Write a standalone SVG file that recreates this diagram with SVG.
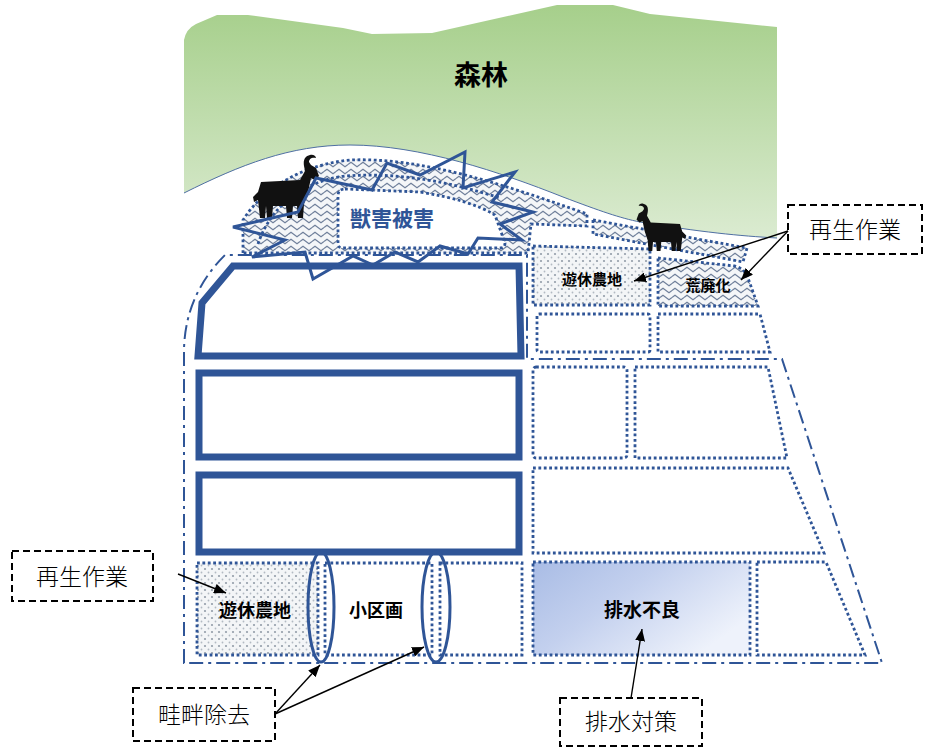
<svg xmlns="http://www.w3.org/2000/svg" xmlns:xlink="http://www.w3.org/1999/xlink" width="926" height="747" viewBox="0 0 926 747">
  <style>
    .dot { fill: none; stroke: #2f5597; stroke-width: 2.8; stroke-dasharray: 2.8 2.6; }
    .dashdot { fill: none; stroke: #2f5597; stroke-width: 2; stroke-dasharray: 14 5 3 5; }
    .thick { fill: #ffffff; stroke: #2f5597; stroke-width: 7; stroke-linejoin: miter; }
    .ring { fill: none; stroke: #2f5597; stroke-width: 3; }
    .burst { fill: none; stroke: #2f5597; stroke-width: 3; stroke-linejoin: miter; }
    .box { fill: #ffffff; stroke: #000000; stroke-width: 2; stroke-dasharray: 7 4; }
    .lbl { font-family: "Noto Sans CJK JP", "Noto Sans CJK SC", sans-serif; font-weight: 700; fill: #000000; text-anchor: middle; }
    .note { font-family: "Noto Sans CJK JP", "Noto Sans CJK SC", sans-serif; font-weight: 300; font-size: 23px; fill: #000000; text-anchor: middle; }
    .arrow { fill: none; stroke: #000000; stroke-width: 1.4; marker-end: url(#head); }
  </style>
  <defs>
    <linearGradient id="forestFill" x1="0" y1="0" x2="0" y2="1">
      <stop offset="0" stop-color="#a6cf8b"/>
      <stop offset="1" stop-color="#dbebd1"/>
    </linearGradient>
    <linearGradient id="wetFill" x1="0" y1="0" x2="1" y2="0.6">
      <stop offset="0" stop-color="#a9bce5"/>
      <stop offset="0.45" stop-color="#c3d0ee"/>
      <stop offset="1" stop-color="#eef2fb"/>
    </linearGradient>
    <pattern id="wave" width="12" height="7" patternUnits="userSpaceOnUse">
      <rect width="12" height="7" fill="#f4f6f8"/>
      <path d="M0,3.5 L3,1.2 L6,3.5 L9,5.8 L12,3.5" fill="none" stroke="#6f7f9a" stroke-width="1.1"/>
    </pattern>
    <pattern id="dots" width="7" height="7" patternUnits="userSpaceOnUse">
      <rect width="7" height="7" fill="#f3f5f7"/>
      <circle cx="2" cy="2" r="1.1" fill="#939da9"/>
      <circle cx="5.5" cy="5.5" r="0.9" fill="#b2bac3"/>
    </pattern>
    <marker id="head" markerWidth="12" markerHeight="10" refX="12" refY="5" orient="auto" markerUnits="userSpaceOnUse">
      <path d="M0,0 L12,5 L0,10 Z" fill="#000000"/>
    </marker>
    <!-- goat silhouette, facing right, 66 x 64 -->
    <path id="goat" fill="#111111" d="M8,28 L47,26 L52,17 L51,12 C50,6 52,2 57,1 C60,0 63,2 63,4 C60,3 56,4 56,8 L58,11 L63,14 L66,22 L62,26 L58,24 L55,38 L51,50 L50,64 L45,64 L44,52 L40,52 L39,64 L34,64 L33,52 L20,52 L19,64 L14,64 L13,52 L12,64 L7,64 L5,46 L1,48 L0,43 L5,38 Z"/>
  </defs>

  <rect width="926" height="747" fill="#ffffff"/>

  <!-- forest -->
  <g id="forest">
    <path d="M184,193 L184,40 Q186,29 196,24 L217,15 L248,15 L343,28 L372,34 L432,33 L557,5 L613,5 L650,14 L777,27 L777,238 C740,236 700,232 640,222 C620,218 600,211 563,197 C500,172 420,145 350,145 C290,145 240,165 184,193 Z" fill="url(#forestFill)"/>
    <path d="M184,193 C240,165 290,145 350,145 C420,145 500,172 563,197 C600,211 620,218 640,222 C700,232 740,236 777,238" fill="none" stroke="#4f6fa3" stroke-width="1"/>
    <text class="lbl" x="481" y="85" font-size="27">森林</text>
  </g>

  <!-- damaged hillside band -->
  <g id="hill-band">
    <path d="M243,253 L243,220 C262,190 300,165 350,160 C420,157 500,183 587,214 L587,226 L531,224 L528,253 Z" fill="url(#wave)"/>
    <path class="dot" d="M243,253 L243,220 C262,190 300,165 350,160 C420,157 500,183 587,214 L587,226 L531,224 L528,253 Z"/>
    <path class="dot" d="M258,244 C270,208 300,182 345,176 C400,172 450,182 500,198"/>
    <path d="M345,189 L420,192 Q470,200 495,215 L505,243 Q505,248 500,248 L343,248 Q338,248 338,243 L338,196 Q338,189 345,189 Z" fill="#ffffff"/>
    <path class="dot" d="M345,189 L420,192 Q470,200 495,215 L505,243 Q505,248 500,248 L343,248 Q338,248 338,243 L338,196 Q338,189 345,189 Z"/>
    <path d="M593,220 L747,248 L743,262 L593,234 Z" fill="url(#wave)"/>
    <path class="dot" d="M593,220 L747,248 L743,262 L593,234 Z"/>
  </g>

  <!-- outer boundary -->
  <g id="boundary">
    <path class="dashdot" d="M184,663 L184,350 Q185,295 225,255 L527,255 L527,359 L782,359 L882,663 Z"/>
  </g>

  <!-- consolidated large fields -->
  <g id="field-large-1"><path class="thick" d="M233,266 L519,266 L521,356 L198,356 L202,303 Z"/></g>
  <g id="field-large-2"><rect class="thick" x="199" y="373" width="320" height="84"/></g>
  <g id="field-large-3"><rect class="thick" x="199" y="475" width="320" height="77"/></g>

  <!-- upper right fields -->
  <g id="idle-upper">
    <path d="M533,246 L650,249 L650,305 L533,305 Z" fill="url(#dots)"/>
    <path class="dot" d="M533,246 L650,249 L650,305 L533,305 Z"/>
    <text class="lbl" x="592" y="285" font-size="15">遊休農地</text>
  </g>
  <g id="abandoned">
    <path d="M658,258 L735,266 Q745,269 748,278 L758,306 L658,306 Z" fill="url(#wave)"/>
    <path class="dot" d="M658,258 L735,266 Q745,269 748,278 L758,306 L658,306 Z"/>
    <text class="lbl" x="708" y="291" font-size="15">荒廃化</text>
  </g>
  <g id="field-u3"><rect class="dot" x="537" y="314" width="113" height="38" rx="2"/></g>
  <g id="field-u4"><path class="dot" d="M658,314 L760,314 L770,352 L658,352 Z"/></g>

  <!-- right fields -->
  <g id="field-r1"><rect class="dot" x="533" y="367" width="94" height="91" rx="3"/></g>
  <g id="field-r2"><path class="dot" d="M635,367 L768,367 L787,458 L635,458 Z"/></g>
  <g id="field-r3"><path class="dot" d="M533,468 L788,468 L824,553 L533,553 Z"/></g>
  <g id="poor-drainage">
    <rect x="533" y="562" width="217" height="93" fill="url(#wetFill)"/>
    <rect class="dot" x="533" y="562" width="217" height="93"/>
    <text class="lbl" x="642" y="617" font-size="19">排水不良</text>
  </g>
  <g id="field-r5"><path class="dot" d="M757,562 L826,562 L865,655 L757,655 Z"/></g>

  <!-- lower left small plots -->
  <g id="idle-lower">
    <rect x="197" y="563" width="121" height="92" fill="url(#dots)"/>
    <rect class="dot" x="197" y="563" width="121" height="92"/>
    <text class="lbl" x="255" y="617" font-size="18">遊休農地</text>
  </g>
  <g id="small-plot">
    <rect class="dot" x="325" y="563" width="107" height="92"/>
    <text class="lbl" x="376" y="617" font-size="18">小区画</text>
  </g>
  <g id="field-l3"><rect class="dot" x="440" y="563" width="82" height="92"/></g>
  <g id="levee-1"><ellipse class="ring" cx="321" cy="607" rx="13" ry="55"/></g>
  <g id="levee-2"><ellipse class="ring" cx="436" cy="607" rx="14" ry="55"/></g>

  <!-- wildlife -->
  <g id="goat-1"><use xlink:href="#goat" transform="translate(253,154)"/></g>
  <g id="goat-2"><use xlink:href="#goat" transform="translate(686,203) scale(-0.75,0.75)"/></g>

  <!-- wildlife damage burst -->
  <g id="damage">
    <path class="burst" d="M233,227 L298,212 L316,178 L372,190 L387,163 L420,175 L465,152 L463,188 L515,172 L492,202 L533,212 L500,224 L522,240 L478,238 L468,254 L440,246 L418,262 L395,252 L373,265 L353,256 L313,279 L305,252 L252,257 L285,240 Z"/>
    <text class="lbl" x="392" y="226" font-size="21" style="fill:#2f5597">獣害被害</text>
  </g>

  <!-- callouts -->
  <g id="note-regen-top">
    <rect class="box" x="788" y="205" width="134" height="49"/>
    <text class="note" x="855" y="238">再生作業</text>
  </g>
  <g id="note-regen-left">
    <rect class="box" x="12" y="551" width="141" height="50"/>
    <text class="note" x="82" y="585">再生作業</text>
  </g>
  <g id="note-levee">
    <rect class="box" x="133" y="688" width="142" height="53"/>
    <text class="note" x="204" y="723">畦畔除去</text>
  </g>
  <g id="note-drain">
    <rect class="box" x="560" y="698" width="142" height="48"/>
    <text class="note" x="631" y="730">排水対策</text>
  </g>

  <!-- connectors -->
  <g id="connectors">
    <path class="arrow" d="M788,231 L634,281"/>
    <path class="arrow" d="M788,231 L741,280"/>
    <path class="arrow" d="M178,574 L226,593"/>
    <path class="arrow" d="M275,714 L320,665"/>
    <path class="arrow" d="M275,714 L424,647"/>
    <path class="arrow" d="M631,698 L642,629"/>
  </g>
</svg>
